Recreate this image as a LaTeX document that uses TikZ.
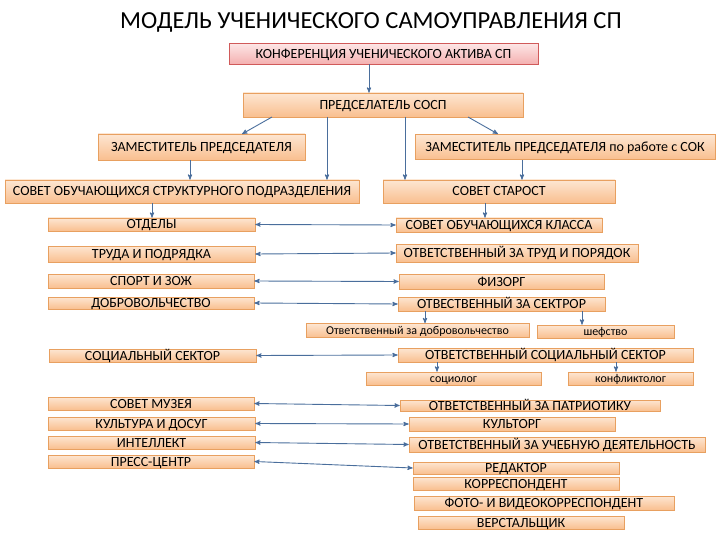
\documentclass[tikz,border=0pt]{standalone}
\usepackage{fontspec}
\setmainfont{Carlito}
\usepackage{tikz}
\usetikzlibrary{arrows,shapes}

\begin{document}
\begin{tikzpicture}[>=stealth',x=1pt,y=-1pt]

\definecolor{btop}{HTML}{FDE6D2} % light peach
\definecolor{bbot}{HTML}{F9BF8F} % peach
\definecolor{bline}{HTML}{E8A060} % orange

\definecolor{ctop}{HTML}{FDE6E6} % light pink
\definecolor{cbot}{HTML}{F4AFAF} % pink
\definecolor{cline}{HTML}{D05A5A} % red

\definecolor{arrc}{HTML}{4A6E9C} % steel blue

\tikzstyle{box}=[rectangle,draw=bline,top color=btop,bottom color=bbot,
	inner sep=0pt,line width=0.6pt,text=black,text height=9pt,text depth=0pt,
	font=\fontsize{14}{16}\selectfont]
\tikzstyle{conf}=[box,draw=cline,top color=ctop,bottom color=cbot]
\tikzstyle{small}=[box,text height=7pt,font=\fontsize{12}{14}\selectfont]

\tikzstyle{arr}=[->,color=arrc,line width=0.9pt]
\tikzstyle{darr}=[<->,color=arrc,line width=0.9pt]

  \useasboundingbox (0,0) rectangle (720,540);

  \node  (title) at (371,22)
         {\fontsize{24.5}{28}\selectfont МОДЕЛЬ УЧЕНИЧЕСКОГО САМОУПРАВЛЕНИЯ СП};

  %% top
  \node  (kuap)  at (383.5,54)  [conf,minimum width=309pt,minimum height=21pt]
         {КОНФЕРЕНЦИЯ УЧЕНИЧЕСКОГО АКТИВА СП};
  \node  (pred)  at (383,105)   [box,minimum width=280pt,minimum height=24pt]
         {ПРЕДСЕЛАТЕЛЬ СОСП};
  \node  (zam1)  at (201.5,147) [box,minimum width=207pt,minimum height=26pt]
         {ЗАМЕСТИТЕЛЬ ПРЕДСЕДАТЕЛЯ};
  \node  (zam2)  at (565,147)   [box,minimum width=300pt,minimum height=25pt]
         {ЗАМЕСТИТЕЛЬ ПРЕДСЕДАТЕЛЯ по работе с СОК};
  \node  (sosp)  at (182,191.5) [box,minimum width=354pt,minimum height=23pt]
         {СОВЕТ ОБУЧАЮЩИХСЯ СТРУКТУРНОГО ПОДРАЗДЕЛЕНИЯ};
  \node  (star)  at (499,191.5) [box,minimum width=232pt,minimum height=23pt]
         {СОВЕТ СТАРОСТ};

  %% left column
  \node  (otd)   at (151.5,224.5) [box,minimum width=207pt,minimum height=13pt] {ОТДЕЛЫ};
  \node  (trud)  at (151.5,254)   [box,minimum width=207pt,minimum height=16pt] {ТРУДА И ПОДРЯДКА};
  \node  (sport) at (151,281)     [box,minimum width=206pt,minimum height=14pt] {СПОРТ И ЗОЖ};
  \node  (dobr)  at (151,303)     [box,minimum width=206pt,minimum height=12pt] {ДОБРОВОЛЬЧЕСТВО};
  \node  (soc)   at (152.5,355.5) [box,minimum width=207pt,minimum height=13pt] {СОЦИАЛЬНЫЙ СЕКТОР};
  \node  (muz)   at (151,403.5)   [box,minimum width=206pt,minimum height=13pt] {СОВЕТ МУЗЕЯ};
  \node  (kult)  at (151.5,423.5) [box,minimum width=207pt,minimum height=13pt] {КУЛЬТУРА И ДОСУГ};
  \node  (intel) at (151.5,442.5) [box,minimum width=207pt,minimum height=13pt] {ИНТЕЛЛЕКТ};
  \node  (press) at (151,461.5)   [box,minimum width=206pt,minimum height=13pt] {ПРЕСС-ЦЕНТР};

  %% right column
  \node  (klass) at (499,225)     [box,minimum width=206pt,minimum height=14pt] {СОВЕТ ОБУЧАЮЩИХСЯ КЛАССА};
  \node  (otrud) at (517,253)     [box,minimum width=242pt,minimum height=18pt] {ОТВЕТСТВЕННЫЙ ЗА ТРУД И ПОРЯДОК};
  \node  (fiz)   at (501.5,281.5) [box,minimum width=205pt,minimum height=15pt] {ФИЗОРГ};
  \node  (osek)  at (501.5,304)   [box,minimum width=207pt,minimum height=14pt] {ОТВЕСТВЕННЫЙ ЗА СЕКТРОР};
  \node  (odobr) at (417.5,330.5) [small,minimum width=223pt,minimum height=14pt] {Ответственный за добровольчество};
  \node  (shef)  at (605.5,331.5) [small,minimum width=137pt,minimum height=13pt] {шефство};
  \node  (osoc)  at (545.5,355)   [box,minimum width=295pt,minimum height=14pt] {ОТВЕТСТВЕННЫЙ СОЦИАЛЬНЫЙ СЕКТОР};
  \node  (sclg)  at (453.5,378.5) [small,minimum width=175pt,minimum height=13pt] {социолог};
  \node  (konf)  at (630.5,378.5) [small,minimum width=125pt,minimum height=13pt] {конфликтолог};
  \node  (patr)  at (530,405.5)   [box,minimum width=260pt,minimum height=11pt] {ОТВЕТСТВЕННЫЙ ЗА ПАТРИОТИКУ};
  \node  (korg)  at (512,424)     [box,minimum width=206pt,minimum height=14pt] {КУЛЬТОРГ};
  \node  (ucheb) at (557,444.5)   [box,minimum width=296pt,minimum height=15pt] {ОТВЕТСТВЕННЫЙ ЗА УЧЕБНУЮ ДЕЯТЕЛЬНОСТЬ};
  \node  (red)   at (516,468)     [box,minimum width=206pt,minimum height=12pt] {РЕДАКТОР};
  \node  (korr)  at (516,483.5)   [box,minimum width=206pt,minimum height=13pt] {КОРРЕСПОНДЕНТ};
  \node  (foto)  at (544,503)     [box,minimum width=260pt,minimum height=14pt] {ФОТО- И ВИДЕОКОРРЕСПОНДЕНТ};
  \node  (verst) at (521,522.5)   [box,minimum width=206pt,minimum height=13pt] {ВЕРСТАЛЬЩИК};

  %% branch points
  \node  (p0) at (369,64.5)   [coordinate] {};
  \node  (p1) at (272,117)  [coordinate] {};
  \node  (p2) at (327,117)  [coordinate] {};
  \node  (p3) at (405,117)  [coordinate] {};
  \node  (p4) at (468,117)  [coordinate] {};
  \node  (q1) at (242,134)  [coordinate] {};
  \node  (q4) at (498,134)  [coordinate] {};

  \path (p0) edge [arr] (p0 |- pred.north)
        (p1) edge [arr] (q1)
        (p2) edge [arr] (p2 |- sosp.north)
        (p3) edge [arr] (p3 |- star.north)
        (p4) edge [arr] (q4)

        ([xshift=-11.5pt]zam1.south) edge [arr] ([xshift=-11.5pt]zam1.south |- sosp.north)
        ([xshift=-43pt]zam2.south)   edge [arr] ([xshift=-43pt]zam2.south |- star.north)
        ([xshift=-30pt]sosp.south)   edge [arr] ([xshift=-30pt]sosp.south |- otd.north)
        ([xshift=-14pt]star.south)   edge [arr] ([xshift=-14pt]star.south |- klass.north)

        (otd.east)   edge [darr] (klass.west)
        (trud.east)  edge [darr] (otrud.west)
        (sport.east) edge [darr] (fiz.west)
        (dobr.east)  edge [darr] (osek.west)

        ([xshift=-76.5pt]osek.south) edge [arr] ([xshift=-76.5pt]osek.south |- odobr.north)
        ([xshift=80.5pt]osek.south)  edge [arr] ([xshift=80.5pt]osek.south |- shef.north)

        (soc.east) edge [darr] (osoc.west)
        ([xshift=-108.5pt]osoc.south) edge [arr] ([xshift=-108.5pt]osoc.south |- sclg.north)
        ([xshift=70.5pt]osoc.south)   edge [arr] ([xshift=70.5pt]osoc.south |- konf.north)

        (muz.east)   edge [darr] (patr.west)
        (kult.east)  edge [darr] (korg.west)
        (intel.east) edge [darr] (ucheb.west)
        (press.east) edge [darr] (red.west);

\end{tikzpicture}
\end{document}
